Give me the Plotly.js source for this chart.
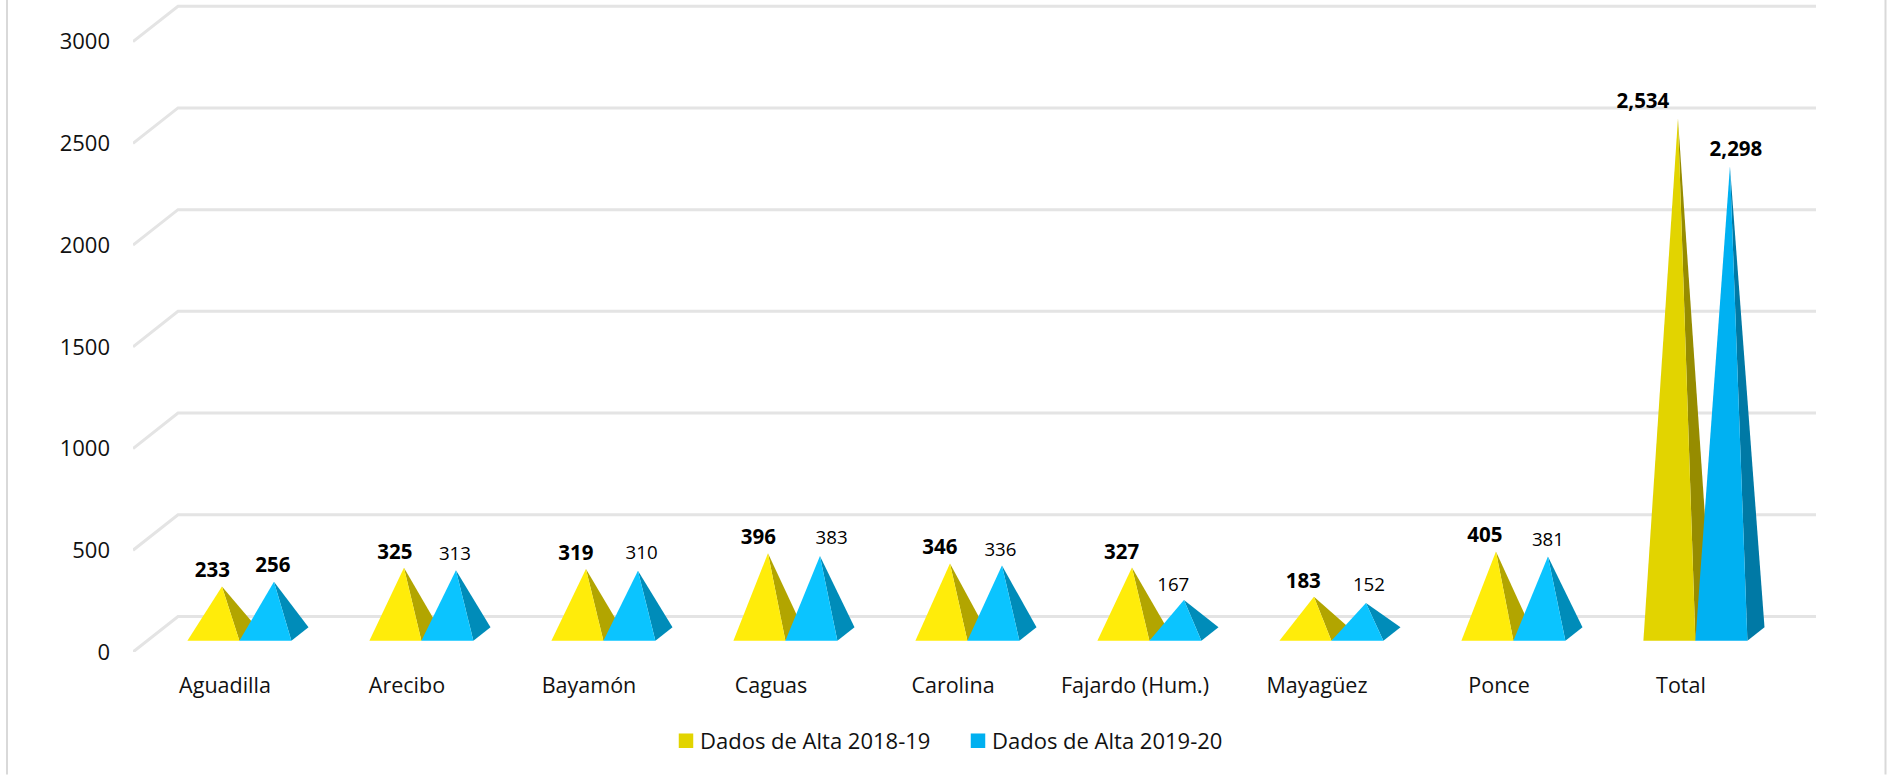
<!DOCTYPE html>
<html><head><meta charset="utf-8">
<script src="https://cdn.plot.ly/plotly-3.0.1.min.js"></script>
<style>html,body{margin:0;padding:0;background:#fff;overflow:hidden}</style>
</head><body><div id="chart" style="width:1893px;height:775px"></div>
<script>
var categories = ["Aguadilla","Arecibo","Bayamón","Caguas","Carolina","Fajardo (Hum.)","Mayagüez","Ponce","Total"];
var altas2018 = [233,325,319,396,346,327,183,405,2534];
var altas2019 = [256,313,310,383,336,167,152,381,2298];
var bold2018 = [true,true,true,true,true,true,true,true,true];
var bold2019 = [true,false,false,false,false,false,false,false,true];
var seriesNames = ["Dados de Alta 2018-19","Dados de Alta 2019-20"];
var valueTicks = [0,500,1000,1500,2000,2500,3000];

// layout scale
var W=1893,H=775,L=133,R=1835,B=652.5,pxPerUnit=0.2036,pxPerCat=182;
var yTop=B/pxPerUnit;
var xMin=(L-225)/pxPerCat, xMax=xMin+(R-L)/pxPerCat;
var depthDX=45/pxPerCat, depthDY=35.5/pxPerUnit;
function proj(x,v,d){return [x+d*depthDX, v+d*depthDY];}
var halfW=52/pxPerCat, d0=0.32, d1=0.70, dm=(d0+d1)/2;

var traces=[];
// gridlines
var gx=[],gy=[];
valueTicks.forEach(function(v){
  var a=proj(xMin,v,0),b=proj(xMin,v,1),c=proj(xMin+categories.length,v,1);
  gx.push(a[0],b[0],c[0],null);gy.push(a[1],b[1],c[1],null);
});
traces.push({type:"scatter",mode:"lines",x:gx,y:gy,line:{color:"#E4E4E4",width:3},hoverinfo:"skip",showlegend:false});

var palettes=[
 {front:"#FFEC0A",side:"#B2A500",tf:"#E2D400",ts:"#968C00"},
 {front:"#0BC4FF",side:"#008CB9",tf:"#00B1F2",ts:"#0079A5"}
];
function face(pts,color){
  traces.push({type:"scatter",mode:"lines",x:pts.map(function(p){return p[0]}).concat(pts[0][0]),
   y:pts.map(function(p){return p[1]}).concat(pts[0][1]),fill:"toself",fillcolor:color,
   line:{width:0,color:color},hoverinfo:"skip",showlegend:false});
}
function pyramid(i,s,v){
  var isTotal=i===categories.length-1, pal=palettes[s];
  var x0=i+(s-1)*halfW, x1=x0+halfW, xc=x0+halfW/2;
  var A=proj(x0,0,d0),Bp=proj(x1,0,d0),C=proj(x1,0,d1),T=proj(xc,v,dm);
  face([Bp,C,T],isTotal?pal.ts:pal.side);
  face([A,Bp,T],isTotal?pal.tf:pal.front);
  return T;
}
var labelDX=[[-9.5,-9,-10,-9.5,-10,-10.3,-10.7,-11,-35],[-1,-1,3.7,11.7,-1.5,-10.7,3,0,6]];
var labelDY=[[14.5,13.5,14.3,14.6,14.6,13.6,13.9,14.6,15.5],[14.6,14.5,16.6,17,14.6,14,17,14.6,15.5]];
var series=[altas2018,altas2019], bolds=[bold2018,bold2019];
var labelTraces=[];
series.forEach(function(vals,s){
  var lx=[],ly=[],lt=[],ls=[];
  vals.forEach(function(v,i){
    var T=pyramid(i,s,v);
    lx.push(T[0]+labelDX[s][i]/pxPerCat);
    ly.push(T[1]+labelDY[s][i]/pxPerUnit);
    var str=v>=1000?String(v).replace(/(\d)(\d{3})$/,"$1,$2"):String(v);
    lt.push(bolds[s][i]?"<b>"+str+"</b>":str);
    ls.push(bolds[s][i]?20.5:18.7);
  });
  labelTraces.push({type:"scatter",mode:"text",x:lx,y:ly,text:lt,textposition:"middle center",
    textfont:{family:"'Open Sans',sans-serif",size:ls,color:"#000"},cliponaxis:false,hoverinfo:"skip",showlegend:false});
});
traces=traces.concat(labelTraces);
traces.push({type:"scatter",mode:"markers",x:[null],y:[null],name:seriesNames[0],marker:{symbol:"square",size:14.5,color:"#E2D400"}});
traces.push({type:"scatter",mode:"markers",x:[null],y:[null],name:seriesNames[1],marker:{symbol:"square",size:14.5,color:"#00B0F0"}});

var pw=R-L;
var layout={
  width:W,height:H,margin:{l:L,r:W-R,t:0,b:H-B,pad:0},
  paper_bgcolor:"#fff",plot_bgcolor:"rgba(0,0,0,0)",showlegend:true,
  font:{family:"'Open Sans',sans-serif",size:20,color:"#111"},
  xaxis:{type:"linear",range:[xMin,xMax],tickmode:"array",tickvals:categories.map(function(c,i){return i}),ticktext:categories,
    showgrid:false,zeroline:false,showline:false,ticks:"",ticklabelstandoff:18,tickfont:{size:21.5,color:"#111"}},
  yaxis:{type:"linear",range:[0,yTop],tickmode:"array",tickvals:valueTicks,ticktext:valueTicks.map(String),
    showgrid:false,zeroline:false,showline:false,ticks:"",ticklabelstandoff:22,tickfont:{size:22,color:"#111"}},
  legend:{orientation:"h",entrywidth:247,entrywidthmode:"pixels",x:(660-L)/pw,xanchor:"left",y:(B-741.5)/B,yanchor:"middle",font:{size:22,color:"#111"},itemwidth:30,tracegroupgap:0,bgcolor:"rgba(0,0,0,0)"},
  shapes:[
    {type:"line",xref:"paper",yref:"paper",x0:(7-L)/pw,x1:(7-L)/pw,y0:(B-H)/B,y1:1,line:{color:"#D9D9D9",width:2}},
    {type:"line",xref:"paper",yref:"paper",x0:(1885.5-L)/pw,x1:(1885.5-L)/pw,y0:(B-H)/B,y1:1,line:{color:"#D9D9D9",width:2}}
  ]
};
Plotly.newPlot("chart",traces,layout,{displayModeBar:false,responsive:false}).then(function(){
  document.querySelectorAll("#chart .legendsymbols").forEach(function(g){g.setAttribute("transform","translate(6,0)");});
});
</script></body></html>
